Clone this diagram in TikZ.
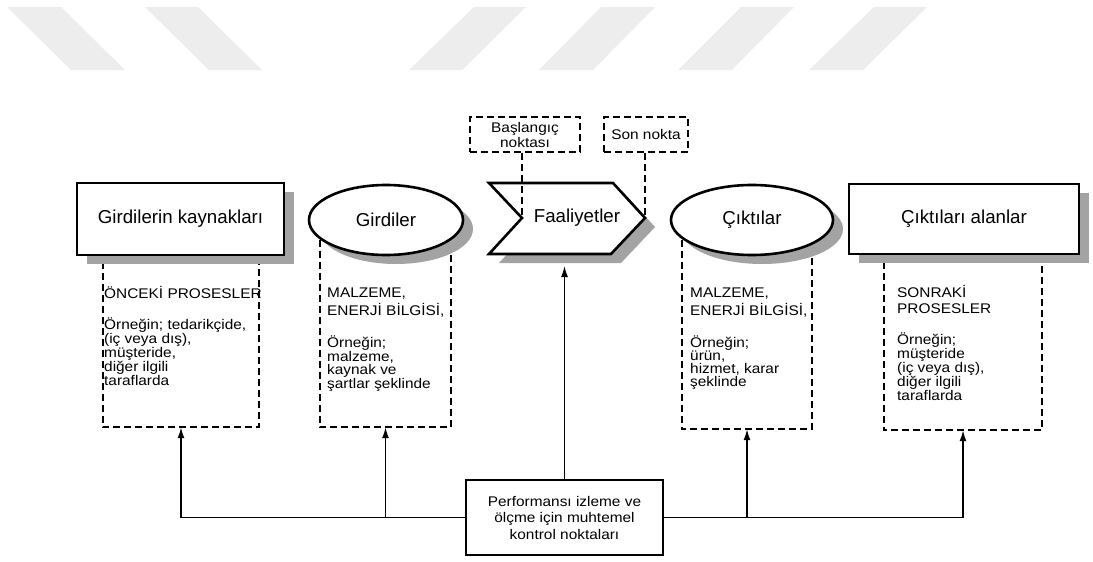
\documentclass[tikz,border=0pt]{standalone}
\usepackage{fontspec}
\setmainfont{Liberation Sans}
\newfontfamily\bodyfont{Liberation Sans}[FakeStretch=1.1]
\usetikzlibrary{shapes.geometric,shadows,arrows.meta}
\definecolor{wmgray}{HTML}{EDEDED}
\definecolor{shadowgray}{HTML}{A3A3A3}
\begin{document}
\begin{tikzpicture}[x=1pt,y=-1pt,
  sh/.style={drop shadow={shadow xshift=10pt, shadow yshift=-9pt, fill=shadowgray, opacity=1}},
  titlefont/.style={font=\fontsize{18.7}{22}\selectfont},
  titlebox/.style={draw, line width=2.6pt, fill=white, inner sep=0pt, titlefont, sh},
  titleell/.style={ellipse, draw, line width=2.6pt, fill=white, inner sep=0pt, titlefont, sh},
  dashline/.style={line width=1.6pt, dash pattern=on 7pt off 4pt},
  region/.style={inner sep=0pt, minimum width=#1},
  body/.style={font=\bodyfont\fontsize{14}{13}\selectfont, inner sep=0pt, anchor=north west, align=left},
  tagbox/.style={draw, dashline, font=\bodyfont\fontsize{14}{15}\selectfont, inner sep=0pt, minimum height=35pt, align=center},
  conn/.style={line width=1.5pt, -{Latex[length=11pt,width=7pt]}},
]
\useasboundingbox (0,0) rectangle (1093,562);
\fill[white] (0,0) rectangle (1093,562);

% watermark bands
\fill[wmgray] (7,7) -- (61,7) -- (125,70) -- (71,70) -- cycle;
\fill[wmgray] (145,7) -- (198,7) -- (262,70) -- (209,70) -- cycle;
\fill[wmgray] (474,7) -- (526,7) -- (462,70) -- (409,70) -- cycle;
\fill[wmgray] (601,7) -- (655,7) -- (593,70) -- (539,70) -- cycle;
\fill[wmgray] (741,7) -- (794,7) -- (732,70) -- (678,70) -- cycle;
\fill[wmgray] (874,7) -- (927,7) -- (863,70) -- (809,70) -- cycle;

% dashed regions (open at the top)
\node[region=156pt, minimum height=187pt] (d1) at (181,333.5) {};
\node[region=131pt, minimum height=187pt] (d2) at (385.5,333.5) {};
\node[region=130pt, minimum height=189pt] (d3) at (747,334.5) {};
\node[region=158pt, minimum height=190pt] (d4) at (963,335) {};
\draw[dashline] (d1.north west) |- (d1.south east) -- (d1.north east);
\draw[dashline] (d2.north west) |- (d2.south east) -- (d2.north east);
\draw[dashline] (d3.north west) |- (d3.south east) -- (d3.north east);
\draw[dashline] (d4.north west) |- (d4.south east) -- (d4.north east);

% main shapes
\node[titlebox, minimum width=207pt, minimum height=72pt] (src) at (180.5,219) {Girdilerin kaynakları};
\node[titleell, minimum width=154pt, minimum height=70pt] (gi) at (386,220) {Girdiler};
\draw[line width=2.6pt, fill=white, sh] (489,183) -- (613,183) -- (645,218) -- (611,254) -- (489,254) -- (522,218) -- cycle;
\coordinate (fnotch) at (522,218);
\coordinate (ftip) at (645,218);
\coordinate (fbot) at (566,266);
\node[titlefont, inner sep=0pt] (fa) at (577,218) {Faaliyetler};
\node[titleell, minimum width=162pt, minimum height=70pt] (ci) at (752,220) {Çıktılar};
\node[titlebox, minimum width=230pt, minimum height=70pt] (rcv) at (964,219) {Çıktıları alanlar};

% start / end point tags
\node[tagbox, minimum width=110pt] (bn) at (525,134.5) {Başlangıç\\noktası};
\node[tagbox, minimum width=84pt] (sn) at (646,134.5) {Son nokta};
\draw[dashline] (fnotch |- bn.south) -- (fnotch);
\draw[dashline] (ftip |- sn.south) -- (ftip);

% texts in dashed regions
\node[body] (t1) at (104,285) {\rule{0pt}{13pt}ÖNCEKİ PROSESLER\\[18pt]Örneğin; tedarikçide,\\(iç veya dış),\\müşteride,\\diğer ilgili\\taraflarda};
\node[body] (t2) at (327,284) {\rule{0pt}{13pt}MALZEME,\\[3pt]ENERJİ BİLGİSİ,\\[18pt]Örneğin;\\malzeme,\\kaynak ve\\şartlar şeklinde};
\node[body] (t3) at (690,284) {\rule{0pt}{13pt}MALZEME,\\[3pt]ENERJİ BİLGİSİ,\\[18pt]Örneğin;\\ürün,\\hizmet, karar\\şeklinde};
\node[body] (t4) at (897,284) {\rule{0pt}{13pt}SONRAKİ\\[3pt]PROSESLER\\[18pt]Örneğin;\\müşteride\\(iç veya dış),\\diğer ilgili\\taraflarda};

% control points
\node[draw, line width=2.6pt, fill=white, minimum width=197pt, minimum height=75pt, inner sep=0pt, align=center, font=\bodyfont\fontsize{14}{16.5}\selectfont] (pm) at (564.5,517.5) {Performansı izleme ve\\ölçme için muhtemel\\kontrol noktaları};
\draw[conn] (pm.west) -| (d1.south);
\draw[conn] (pm.west) -| (d2.south);
\draw[conn] (pm.east) -| (d3.south);
\draw[conn] (pm.east) -| (d4.south);
\draw[conn] (pm.north) -- (pm.north |- fbot);
\end{tikzpicture}
\end{document}
